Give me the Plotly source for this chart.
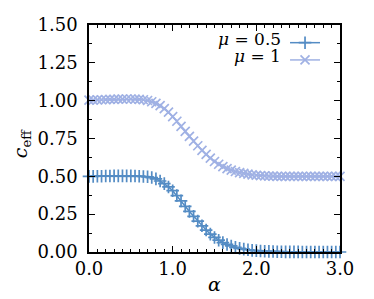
import plotly.graph_objects as go

alpha = [0.00, 0.05, 0.10, 0.15, 0.20, 0.25, 0.30, 0.35, 0.40, 0.45,
         0.50, 0.55, 0.60, 0.65, 0.70, 0.75, 0.80, 0.85, 0.90, 0.95,
         1.00, 1.05, 1.10, 1.15, 1.20, 1.25, 1.30, 1.35, 1.40, 1.45,
         1.50, 1.55, 1.60, 1.65, 1.70, 1.75, 1.80, 1.85, 1.90, 1.95,
         2.00, 2.05, 2.10, 2.15, 2.20, 2.25, 2.30, 2.35, 2.40, 2.45,
         2.50, 2.55, 2.60, 2.65, 2.70, 2.75, 2.80, 2.85, 2.90, 2.95, 3.00]

c_mu05 = [0.500, 0.500, 0.501, 0.501, 0.502, 0.502, 0.503, 0.503, 0.503, 0.503,
          0.503, 0.502, 0.501, 0.499, 0.497, 0.492, 0.483, 0.469, 0.452, 0.430,
          0.405, 0.373, 0.338, 0.302, 0.268, 0.236, 0.204, 0.173, 0.145, 0.118,
          0.096, 0.078, 0.062, 0.050, 0.040, 0.031, 0.024, 0.019, 0.015, 0.011,
          0.009, 0.007, 0.005, 0.004, 0.003, 0.002, 0.002, 0.001, 0.001, 0.001,
          0.001, 0.000, 0.000, 0.000, 0.000, 0.000, 0.000, 0.000, 0.000, 0.000, 0.000]

c_mu1 = [1.003, 1.004, 1.005, 1.006, 1.007, 1.008, 1.009, 1.010, 1.010, 1.011,
         1.011, 1.010, 1.009, 1.006, 1.001, 0.993, 0.982, 0.967, 0.948, 0.924,
         0.895, 0.864, 0.830, 0.797, 0.764, 0.733, 0.702, 0.672, 0.645, 0.620,
         0.598, 0.580, 0.564, 0.551, 0.541, 0.532, 0.525, 0.519, 0.514, 0.510,
         0.507, 0.505, 0.503, 0.502, 0.501, 0.500, 0.500, 0.500, 0.500, 0.500,
         0.500, 0.500, 0.500, 0.500, 0.500, 0.500, 0.500, 0.500, 0.500, 0.500, 0.500]

labels = ["<i>μ</i> = 0.5", "<i>μ</i> = 1"]
colors = ["#4683c0", "#98abe2"]
symbols = ["cross-thin", "x-thin"]
series = [c_mu05, c_mu1]
legend_ids = ["legend", "legend2"]

FONT = "DejaVu Serif"

fig = go.Figure()
for vals, col, sym, lg in zip(series, colors, symbols, legend_ids):
    fig.add_trace(go.Scatter(
        x=alpha, y=vals, mode="lines+markers", name="", legend=lg,
        line=dict(color=col, width=1.5),
        marker=dict(symbol=sym, size=9, color=col, line=dict(color=col, width=1.7)),
        opacity=0.92, cliponaxis=False,
    ))

# legend labels, right-aligned to the left of the legend symbols
for i, lab in enumerate(labels):
    fig.add_annotation(
        text=lab, xref="paper", yref="paper", x=0.769, y=0.938 - i * 0.075,
        xanchor="right", yanchor="middle", showarrow=False, borderpad=0,
        font=dict(family=FONT, size=17, color="black"),
    )

# axis titles
fig.add_annotation(
    text="<i>c</i><sub>eff</sub>", xref="paper", yref="paper", x=-0.27, y=0.48,
    xanchor="center", yanchor="middle", textangle=-90, showarrow=False,
    font=dict(family=FONT, size=19, color="black"),
)
fig.add_annotation(
    text="<i>α</i>", xref="paper", yref="paper", x=0.5, y=-0.14,
    xanchor="center", yanchor="middle", showarrow=False,
    font=dict(family=FONT, size=19, color="black"),
)

axis_common = dict(
    showline=True, linecolor="black", linewidth=1.5, mirror="ticks",
    ticks="inside", tickcolor="black", tickwidth=1.2, showgrid=False,
    zeroline=False, automargin=False,
    tickfont=dict(family=FONT, size=18, color="black"),
)

fig.update_xaxes(
    range=[0, 3], dtick=1.0, tick0=0, tickformat=".1f", ticklen=6,
    minor=dict(dtick=0.1, ticklen=3, ticks="inside", tickcolor="black", tickwidth=1.0, showgrid=False),
    **axis_common,
)
fig.update_yaxes(
    range=[0, 1.5], dtick=0.25, tick0=0, tickformat=".2f", ticklen=6,
    minor=dict(dtick=0.125, ticklen=3, ticks="inside", tickcolor="black", tickwidth=1.0, showgrid=False),
    ticklabelstandoff=6,
    **axis_common,
)

leg_common = dict(x=0.781, xanchor="left", yanchor="top",
                  bgcolor="rgba(0,0,0,0)", font=dict(family=FONT, size=10),
                  itemwidth=30)

# the page body adds an 8px margin on the left and top
fig.update_layout(
    width=366, height=291,
    margin=dict(l=81, r=34, t=17, b=47),
    plot_bgcolor="white", paper_bgcolor="white",
    showlegend=True,
    legend=dict(y=0.986, **leg_common),
    legend2=dict(y=0.910, **leg_common),
)

fig.write_html("out.html")
